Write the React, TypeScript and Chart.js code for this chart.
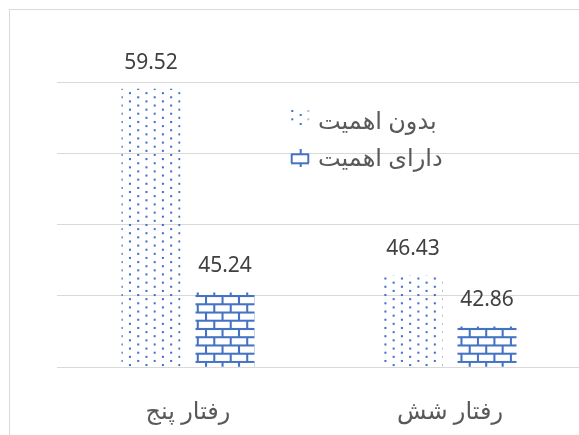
import { useEffect, useRef } from "react";
import { Chart, registerables } from "chart.js";

Chart.register(...registerables);

const categories = ["رفتار پنج", "رفتار شش"];
const seriesNames = ["بدون اهمیت", "دارای اهمیت"];
const unimportantValues = [59.52, 46.43];
const importantValues = [45.24, 42.86];
const yMin = 40;
const yMax = 60;
const yStep = 5;

const BLUE = "#4472C4";
const FAMILY = '"Noto Sans", "DejaVu Sans", sans-serif';
const S = 1.03;

function mod(a: number, b: number) {
  return ((a % b) + b) % b;
}

function dotPattern(ctx: CanvasRenderingContext2D, ax: number, ay: number) {
  const c = document.createElement("canvas");
  c.width = 16;
  c.height = 8;
  const g = c.getContext("2d")!;
  g.fillStyle = BLUE;
  g.fillRect(0, 0, 2, 2);
  g.fillRect(8, 4, 2, 2);
  const p = ctx.createPattern(c, "repeat")!;
  p.setTransform(new DOMMatrix().translate(mod(ax - S, 16 * S), mod(ay - S, 8 * S)).scale(S));
  return p;
}

function brickPattern(ctx: CanvasRenderingContext2D, ax: number, ay: number) {
  const c = document.createElement("canvas");
  c.width = 16;
  c.height = 16;
  const g = c.getContext("2d")!;
  g.fillStyle = BLUE;
  g.fillRect(0, 0, 16, 2);
  g.fillRect(0, 8, 16, 2);
  g.fillRect(0, 2, 2, 6);
  g.fillRect(8, 10, 2, 6);
  const p = ctx.createPattern(c, "repeat")!;
  p.setTransform(new DOMMatrix().translate(mod(ax - S, 16 * S), mod(ay - S, 16 * S)).scale(S));
  return p;
}

const valueLabels = {
  id: "valueLabels",
  afterDatasetsDraw(chart: any) {
    const ctx = chart.ctx;
    ctx.save();
    ctx.font = `21px ${FAMILY}`;
    ctx.fillStyle = "#404040";
    ctx.textAlign = "center";
    ctx.textBaseline = "middle";
    chart.data.datasets.forEach((ds: any, i: number) => {
      chart.getDatasetMeta(i).data.forEach((bar: any, j: number) => {
        ctx.fillText(Number(ds.data[j]).toFixed(2), bar.x, bar.y - 26);
      });
    });
    ctx.restore();
  },
};

const customLegend = {
  id: "customLegend",
  afterDraw(chart: any) {
    const ctx = chart.ctx;
    ctx.save();
    ctx.fillStyle = BLUE;
    const dots: [number, number, number][] = [
      [292.3, 111, 1],
      [300.7, 115, 1],
      [292.3, 119.3, 1],
      [300.7, 124, 1],
      [308.3, 111, 0.45],
      [308.3, 119.3, 0.45],
    ];
    dots.forEach(([x, y, a]) => {
      ctx.globalAlpha = a;
      ctx.fillRect(x - 1, y - 1, 2, 2);
    });
    ctx.globalAlpha = 1;
    ctx.fillRect(291, 153.3, 18, 2);
    ctx.fillRect(291, 162.3, 18, 2);
    ctx.fillRect(290.7, 154, 2, 9);
    ctx.fillRect(307.3, 154, 2, 9);
    ctx.fillRect(299.7, 149, 2, 5);
    ctx.fillRect(299.7, 163, 2, 4);
    ctx.font = `24px ${FAMILY}`;
    ctx.fillStyle = "#595959";
    ctx.textAlign = "left";
    ctx.textBaseline = "middle";
    ctx.fillText(chart.data.datasets[0].label, 318, 122);
    ctx.fillText(chart.data.datasets[1].label, 318, 159);
    ctx.restore();
  },
};

export default function App() {
  const ref = useRef<HTMLCanvasElement>(null);

  useEffect(() => {
    const canvas = ref.current!;
    const ctx = canvas.getContext("2d")!;
    const dots = dotPattern(ctx, 121.7, 89);
    const bricks = brickPattern(ctx, 206, 296);
    const chart = new Chart(canvas, {
      type: "bar",
      data: {
        labels: categories,
        datasets: [
          {
            label: seriesNames[0],
            data: unimportantValues,
            backgroundColor: dots as any,
            borderWidth: 0,
            base: yMin,
            barPercentage: 0.797,
            categoryPercentage: 0.565,
          } as any,
          {
            label: seriesNames[1],
            data: importantValues,
            backgroundColor: bricks as any,
            borderWidth: 0,
            base: yMin,
            barPercentage: 0.797,
            categoryPercentage: 0.565,
          } as any,
        ],
      },
      options: {
        responsive: false,
        animation: false,
        layout: { padding: { left: 57, right: 1, top: 82, bottom: 9 } },
        plugins: {
          legend: { display: false },
          tooltip: { enabled: false },
        },
        scales: {
          x: {
            grid: { display: false, drawTicks: false },
            border: { display: false },
            ticks: {
              color: "#595959",
              font: { size: 24, family: FAMILY },
              padding: 31,
              maxRotation: 0,
            },
          },
          y: {
            min: yMin,
            max: yMax,
            ticks: { display: false, stepSize: yStep },
            grid: { color: "#d9d9d9", drawTicks: false, lineWidth: 1 },
            border: { display: false },
          },
        },
      },
      plugins: [valueLabels, customLegend],
    });
    return () => chart.destroy();
  }, []);

  return (
    <div
      style={{
        position: "fixed",
        left: 0,
        top: 0,
        width: 579,
        height: 435,
        overflow: "hidden",
        background: "#fff",
      }}
    >
      <canvas
        ref={ref}
        width={582}
        height={467}
        style={{ position: "absolute", left: 0, top: 0, width: 582, height: 467 }}
      />
      <div
        style={{
          position: "absolute",
          left: 9,
          top: 9,
          width: 800,
          height: 800,
          border: "1px solid #d9d9d9",
          pointerEvents: "none",
        }}
      />
    </div>
  );
}
